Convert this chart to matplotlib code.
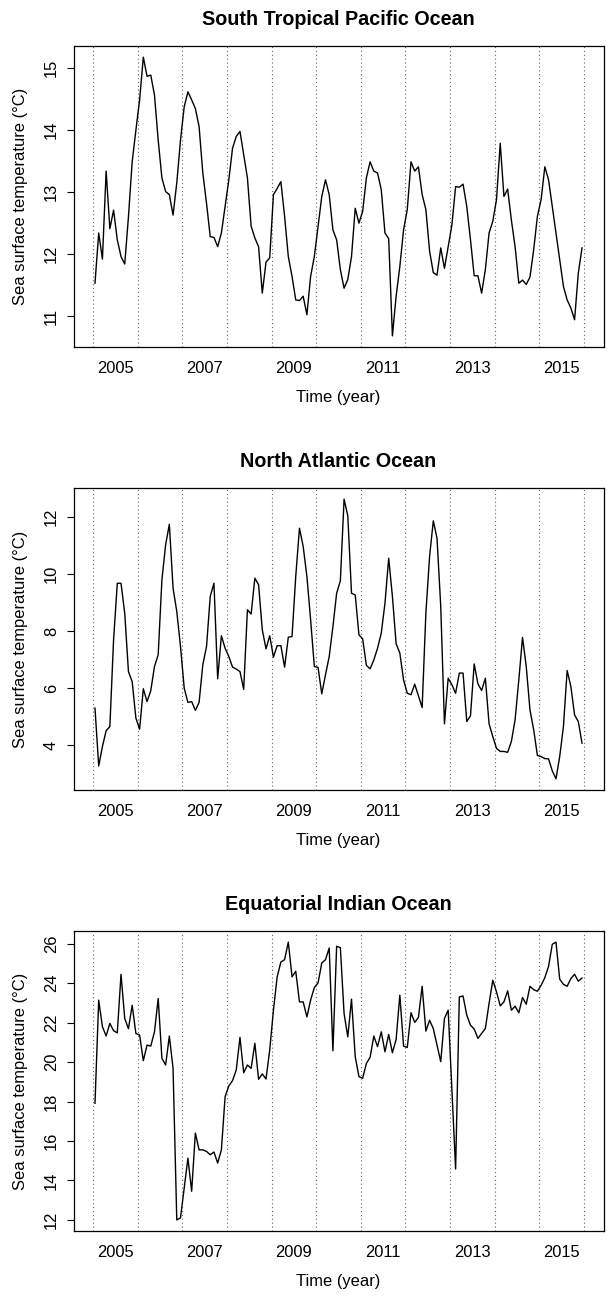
import numpy as np
import matplotlib
matplotlib.use("Agg")
import matplotlib.pyplot as plt

plt.rcParams['font.family'] = ['Liberation Sans', 'DejaVu Sans']

# Monthly series, July 2004 .. June 2015 (132 months)
start_year = 2004
start_month = 7
n_months = 132

pacific = [
    11.53, 12.34, 11.92, 13.34, 12.41, 12.71, 12.23, 11.96, 11.84, 12.60,
    13.49, 14.00, 14.49, 15.18, 14.87, 14.89, 14.57, 13.84, 13.23, 13.01,
    12.96, 12.63, 13.15, 13.84, 14.38, 14.62, 14.49, 14.35, 14.06, 13.31,
    12.82, 12.28, 12.27, 12.12, 12.34, 12.77, 13.20, 13.71, 13.90, 13.98,
    13.60, 13.23, 12.45, 12.26, 12.12, 11.37, 11.87, 11.94, 12.96, 13.06,
    13.17, 12.61, 11.96, 11.64, 11.26, 11.25, 11.32, 11.02, 11.64, 11.96,
    12.45, 12.93, 13.20, 12.96, 12.39, 12.23, 11.75, 11.45, 11.59, 11.96,
    12.74, 12.50, 12.69, 13.23, 13.49, 13.34, 13.31, 13.04, 12.34, 12.25,
    10.68, 11.32, 11.80, 12.39, 12.72, 13.49, 13.34, 13.41, 12.96, 12.72,
    12.05, 11.70, 11.66, 12.10, 11.77, 12.12, 12.47, 13.09, 13.08, 13.13,
    12.77, 12.23, 11.65, 11.65, 11.37, 11.75, 12.34, 12.53, 12.88, 13.79,
    12.93, 13.05, 12.55, 12.12, 11.53, 11.58, 11.51, 11.63, 12.07, 12.61,
    12.88, 13.41, 13.20, 12.77, 12.34, 11.91, 11.48, 11.26, 11.13, 10.94,
    11.69, 12.10,
]

atlantic = [
    5.30, 3.27, 3.95, 4.51, 4.65, 7.70, 9.68, 9.68, 8.63, 6.58,
    6.23, 4.95, 4.56, 5.98, 5.53, 5.91, 6.76, 7.17, 9.80, 11.03,
    11.75, 9.51, 8.69, 7.46, 6.00, 5.50, 5.53, 5.22, 5.50, 6.82,
    7.46, 9.22, 9.68, 6.33, 7.84, 7.40, 7.11, 6.74, 6.67, 6.58,
    5.96, 8.75, 8.60, 9.86, 9.63, 8.05, 7.38, 7.84, 7.09, 7.49,
    7.49, 6.74, 7.79, 7.81, 9.92, 11.61, 10.97, 9.92, 8.40, 6.76,
    6.73, 5.80, 6.47, 7.11, 8.16, 9.33, 9.77, 12.63, 12.05, 9.33,
    9.27, 7.87, 7.73, 6.80, 6.68, 6.99, 7.40, 7.93, 8.98, 10.56,
    9.22, 7.56, 7.23, 6.29, 5.82, 5.77, 6.14, 5.73, 5.32, 8.63,
    10.62, 11.87, 11.26, 8.87, 4.75, 6.35, 6.12, 5.82, 6.53, 6.53,
    4.83, 5.03, 6.85, 6.15, 5.92, 6.35, 4.75, 4.30, 3.89, 3.78,
    3.78, 3.75, 4.13, 4.89, 6.29, 7.78, 6.76, 5.24, 4.54, 3.64,
    3.60, 3.53, 3.52, 3.10, 2.82, 3.60, 4.65, 6.62, 6.06, 5.06,
    4.83, 4.07,
]

indian = [
    17.91, 23.14, 21.79, 21.32, 21.96, 21.59, 21.48, 24.45, 22.21, 21.69,
    22.88, 21.45, 21.37, 20.07, 20.86, 20.81, 21.53, 23.22, 20.19, 19.85,
    21.32, 19.68, 12.00, 12.10, 13.60, 15.13, 13.45, 16.40, 15.55, 15.55,
    15.47, 15.30, 15.44, 14.88, 15.55, 18.25, 18.79, 19.06, 19.60, 21.25,
    19.46, 19.85, 19.68, 20.95, 19.13, 19.40, 19.14, 20.61, 22.63, 24.32,
    25.07, 25.19, 26.08, 24.32, 24.60, 23.05, 23.05, 22.29, 23.14, 23.78,
    24.01, 25.02, 25.19, 25.78, 20.57, 25.87, 25.80, 22.46, 21.28, 23.19,
    20.27, 19.26, 19.18, 19.93, 20.24, 21.32, 20.78, 21.53, 20.52, 21.40,
    20.47, 21.15, 23.39, 20.81, 20.74, 22.50, 22.01, 22.26, 23.84, 21.57,
    22.12, 21.70, 20.86, 20.02, 22.21, 22.63, 18.60, 14.58, 23.30, 23.35,
    22.38, 21.87, 21.67, 21.20, 21.45, 21.70, 22.97, 24.15, 23.56, 22.85,
    23.05, 23.61, 22.63, 22.83, 22.50, 23.27, 22.93, 23.84, 23.67, 23.59,
    23.89, 24.28, 24.85, 25.97, 26.08, 24.20, 23.94, 23.84, 24.23, 24.45,
    24.10, 24.26,
]

titles = ["South Tropical Pacific Ocean", "North Atlantic Ocean", "Equatorial Indian Ocean"]
series = [pacific, atlantic, indian]
yticks_list = [[11, 12, 13, 14, 15], [4, 6, 8, 10, 12], [12, 14, 16, 18, 20, 22, 24, 26]]
xticks = [2005, 2007, 2009, 2011, 2013, 2015]
season_lines = [2004.5 + k for k in range(12)]

# time axis (mid-month, decimal years)
time = start_year + (start_month - 1 + np.arange(n_months) + 0.5) / 12.0

W, H = 610, 1297
fig = plt.figure(figsize=(W / 100, H / 100), dpi=100)

left_px, right_px = 73.5, 603.5
boxes = [(46, 347), (488, 790), (931, 1231)]

fs = 11.9
for k, (ttl, vals, yt) in enumerate(zip(titles, series, yticks_list)):
    top_px, bot_px = boxes[k]
    ax = fig.add_axes([left_px / W, 1 - bot_px / H, (right_px - left_px) / W, (bot_px - top_px) / H])
    for xv in season_lines:
        ax.axvline(xv, color='#666666', lw=0.8, linestyle=(0, (1, 2.5)), zorder=1)
    ax.plot(time, vals, color='black', lw=1.0, zorder=2)
    ax.margins(x=0.04, y=0.04)
    ax.set_xticks(xticks)
    ax.set_xticklabels([str(x) for x in xticks])
    ax.set_yticks(yt)
    ax.set_yticklabels([str(y) for y in yt])
    ax.tick_params(axis='x', length=0, pad=10, labelsize=fs)
    ax.tick_params(axis='y', length=5, width=0.8, direction='out', pad=5.5, labelsize=fs)
    for lab in ax.get_yticklabels():
        lab.set_rotation(90)
        lab.set_va('center')
        lab.set_ha('right')
    for sp in ax.spines.values():
        sp.set_linewidth(0.9)
        sp.set_color('black')
    h_px = bot_px - top_px
    ax.text(0.5, 1 + 26.5 / h_px, ttl, transform=ax.transAxes, ha='center', va='center',
            fontsize=14.2, fontweight='bold')
    ax.set_xlabel("Time (year)", fontsize=fs)
    ax.xaxis.set_label_coords(0.5, -43 / h_px)
    ax.set_ylabel("Sea surface temperature (°C)", fontsize=fs)
    ax.yaxis.set_label_coords(-(left_px - 28.5) / (right_px - left_px), 0.5)

fig.savefig("out.png", dpi=100)
